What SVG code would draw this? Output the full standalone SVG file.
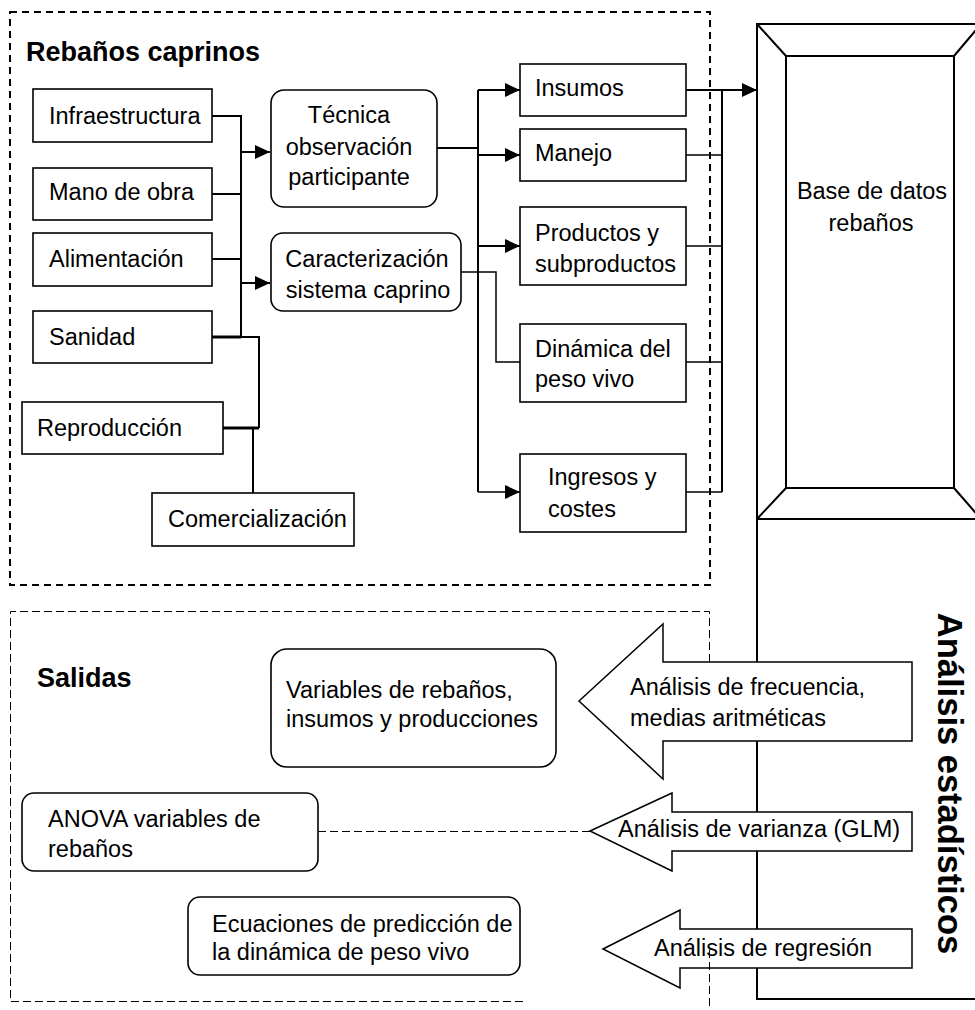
<svg xmlns="http://www.w3.org/2000/svg" width="975" height="1010" viewBox="0 0 975 1010">
<style>
text{font-family:"Liberation Sans",Arial,sans-serif;font-size:23.5px;fill:#000}
.b{font-weight:bold;font-size:27px}
.m{text-anchor:middle}
.box{fill:#fff;stroke:#000;stroke-width:1.6}
.ln{fill:none;stroke:#000;stroke-width:2}
.thin{fill:none;stroke:#000;stroke-width:1.5}
.thick{fill:none;stroke:#000;stroke-width:3}
.arr{fill:#fff;stroke:#000;stroke-width:1.5}
.dash{fill:none;stroke:#000;stroke-width:1;stroke-dasharray:8 4}
</style>
<defs>
<marker id="ah" markerUnits="userSpaceOnUse" markerWidth="16" markerHeight="14" refX="15" refY="7" orient="auto">
<path d="M0,0 L15,7 L0,14 Z" fill="#000"/>
</marker>
</defs>
<rect width="975" height="1010" fill="#fff"/>

<g id="frame-top">
<path d="M10,12 H710 V585 H10 Z" fill="none" stroke="#000" stroke-width="2" stroke-dasharray="7 5"/>
<text x="26" y="61" class="b">Rebaños caprinos</text>
</g>
<g id="frame-bottom">
<path class="dash" d="M709.5,662 V611.5 H10.5 V1001.5 H523"/>
<text x="37" y="687" class="b">Salidas</text>
</g>

<g id="connectors">
<path class="ln" d="M212,116 H241 V337 M212,194 H241 M212,259 H241"/>
<path class="thick" d="M212,337 H241"/>
<path class="ln" d="M241,337 H259 V428"/>
<path class="thick" d="M223,428 H259"/>
<path class="ln" d="M253,428 V493"/>
<path class="ln" d="M241,152 H270" marker-end="url(#ah)"/>
<path class="ln" d="M241,283 H270" marker-end="url(#ah)"/>
<path class="ln" d="M437,148 H478 M478,90 V492"/>
<path class="ln" d="M478,90 H520" marker-end="url(#ah)"/>
<path class="ln" d="M478,155 H520" marker-end="url(#ah)"/>
<path class="ln" d="M478,246 H520" marker-end="url(#ah)"/>
<path class="thin" d="M478,492 H520" marker-end="url(#ah)"/>
<path class="thin" d="M461,272 H496 V362 H520"/>
<path class="ln" d="M686,90 H757" marker-end="url(#ah)"/>
<path class="ln" d="M722,90 V492"/>
<path class="thin" d="M686,155 H722 M686,246 H722 M686,362 H722 M686,492 H722"/>
<path class="ln" d="M757,519 V999 H975"/>
<path class="dash" d="M318,831.5 H590"/>
</g>

<g id="infraestructura"><rect class="box" x="33" y="89" width="179" height="53"/><text x="49" y="123.5">Infraestructura</text></g>
<g id="mano-obra"><rect class="box" x="33" y="168" width="179" height="52"/><text x="49" y="200">Mano de obra</text></g>
<g id="alimentacion"><rect class="box" x="33" y="233" width="179" height="53"/><text x="49" y="266.5">Alimentación</text></g>
<g id="sanidad"><rect class="box" x="33" y="311" width="179" height="52"/><text x="49" y="345">Sanidad</text></g>
<g id="reproduccion"><rect class="box" x="22" y="402" width="201" height="52"/><text x="37" y="436">Reproducción</text></g>
<g id="comercializacion"><rect class="box" x="152" y="493" width="202" height="53"/><text x="168" y="527">Comercialización</text></g>

<g id="tecnica"><rect class="box" x="271" y="90" width="166" height="117" rx="13"/>
<text class="m" x="349" y="123">Técnica</text><text class="m" x="349" y="155">observación</text><text class="m" x="349" y="185">participante</text></g>
<g id="caracterizacion"><rect class="box" x="271" y="233" width="190" height="78" rx="12"/>
<text class="m" x="367" y="267">Caracterización</text><text class="m" x="368" y="298">sistema caprino</text></g>

<g id="insumos"><rect class="box" x="520" y="64" width="166" height="52"/><text x="535" y="96">Insumos</text></g>
<g id="manejo"><rect class="box" x="520" y="129" width="166" height="52"/><text x="535" y="161">Manejo</text></g>
<g id="productos"><rect class="box" x="520" y="207" width="166" height="78"/><text x="535" y="241">Productos y</text><text x="535" y="272">subproductos</text></g>
<g id="dinamica"><rect class="box" x="520" y="324" width="166" height="78"/><text x="535" y="357">Dinámica del</text><text x="535" y="387">peso vivo</text></g>
<g id="ingresos"><rect class="box" x="520" y="454" width="166" height="78"/><text x="548" y="485">Ingresos y</text><text x="548" y="517">costes</text></g>

<g id="base-datos">
<rect x="757" y="24" width="224" height="495" fill="#fff" stroke="#000" stroke-width="2"/>
<rect x="786" y="56" width="168" height="432" fill="none" stroke="#000" stroke-width="2"/>
<path class="ln" d="M757,24 L786,56 M981,24 L954,56 M757,519 L786,488 M981,519 L954,488"/>
<text class="m" x="872" y="199">Base de datos</text><text class="m" x="871" y="231">rebaños</text>
</g>

<g id="variables"><rect class="box" x="271" y="649" width="285" height="118" rx="16"/><text x="286" y="698">Variables de rebaños,</text><text x="286" y="727">insumos y producciones</text></g>
<g id="anova"><rect class="box" x="22" y="793" width="296" height="78" rx="12"/><text x="48" y="827">ANOVA variables de</text><text x="48" y="857">rebaños</text></g>
<g id="ecuaciones"><rect class="box" x="188" y="897" width="332" height="78" rx="12"/><text x="212" y="932">Ecuaciones de predicción de</text><text x="212" y="960">la dinámica de peso vivo</text></g>

<g id="arrow-frecuencia"><polygon class="arr" points="579,701 663,624 663,662 912,662 912,741 663,741 663,779"/><text x="630" y="695">Análisis de frecuencia,</text><text x="630" y="726">medias aritméticas</text></g>
<g id="arrow-varianza"><polygon class="arr" points="590,831 672,793 672,812 912,812 912,851 672,851 672,871"/><text x="618" y="837">Análisis de varianza (GLM)</text></g>
<g id="arrow-regresion"><polygon class="arr" points="603,949 680,910 680,929 912,929 912,968 680,968 680,988"/><text x="654" y="956">Análisis de regresión</text></g>
<path class="dash" d="M709.5,950 V1010"/>

<g id="analisis-estadisticos"><text class="b m" style="font-size:34.5px" transform="translate(938,783.5) rotate(90)">Análisis estadísticos</text></g>
</svg>
